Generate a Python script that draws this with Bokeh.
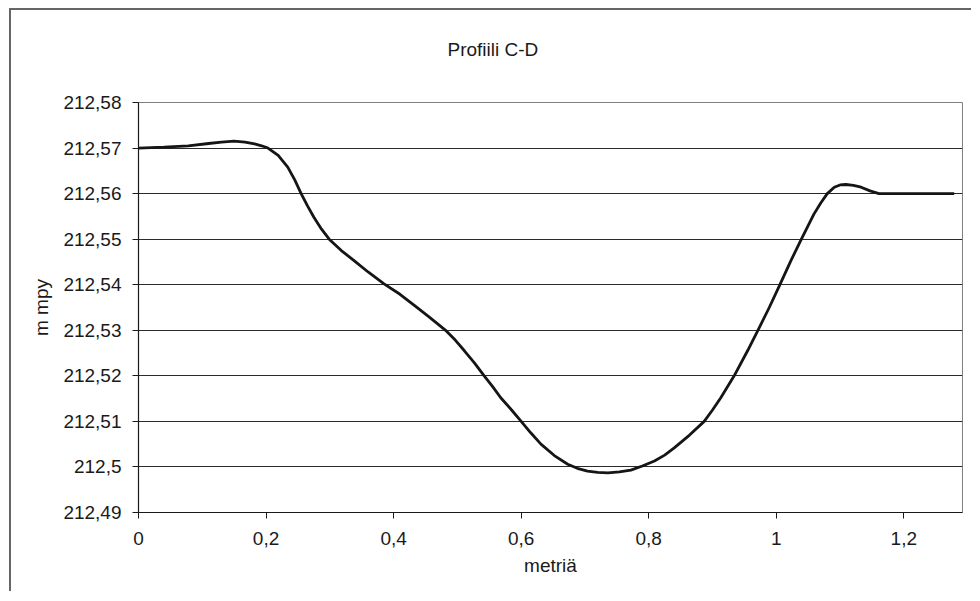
from bokeh.plotting import figure
from bokeh.models import FixedTicker, Range1d, Title
from bokeh.embed import file_html
from bokeh.resources import INLINE

# ---- data ----
title_text = "Profiili C-D"
x_label = "metriä"
y_label = "m mpy"

dist = [0.000, 0.040, 0.078, 0.110, 0.130, 0.150, 0.167, 0.182, 0.193, 0.203,
        0.219, 0.234, 0.245, 0.255, 0.265, 0.275, 0.287, 0.299, 0.318, 0.338,
        0.360, 0.385, 0.410, 0.433, 0.455, 0.470, 0.483, 0.497, 0.511, 0.527,
        0.542, 0.555, 0.568, 0.585, 0.600, 0.615, 0.631, 0.652, 0.673, 0.688,
        0.704, 0.720, 0.736, 0.754, 0.772, 0.790, 0.809, 0.825, 0.840, 0.864,
        0.887, 0.900, 0.913, 0.934, 0.955, 0.971, 0.989, 1.005, 1.023, 1.039,
        1.059, 1.070, 1.080, 1.091, 1.100, 1.109, 1.121, 1.133, 1.147, 1.161,
        1.279]
height = [212.5700, 212.5702, 212.5705, 212.5710, 212.5713, 212.5715, 212.5713,
          212.5709, 212.5705, 212.5700, 212.5684, 212.5658, 212.5630, 212.5600,
          212.5573, 212.5548, 212.5522, 212.5500, 212.5475, 212.5453, 212.5428,
          212.5402, 212.5379, 212.5354, 212.5330, 212.5313, 212.5298, 212.5278,
          212.5255, 212.5228, 212.5200, 212.5177, 212.5152, 212.5125, 212.5100,
          212.5075, 212.5050, 212.5025, 212.5006, 212.4997, 212.4991, 212.4988,
          212.4987, 212.4989, 212.4993, 212.5002, 212.5013, 212.5026, 212.5042,
          212.5070, 212.5100, 212.5125, 212.5152, 212.5200, 212.5255, 212.5299,
          212.5350, 212.5398, 212.5453, 212.5499, 212.5555, 212.5580, 212.5600,
          212.5614, 212.5619, 212.5620, 212.5618, 212.5614, 212.5606, 212.5600,
          212.5600]

x_ticks = [0.0, 0.2, 0.4, 0.6, 0.8, 1.0, 1.2]
x_tick_labels = ["0", "0,2", "0,4", "0,6", "0,8", "1", "1,2"]
y_ticks = [212.49, 212.50, 212.51, 212.52, 212.53, 212.54, 212.55, 212.56, 212.57, 212.58]
y_tick_labels = ["212,49", "212,5", "212,51", "212,52", "212,53", "212,54",
                 "212,55", "212,56", "212,57", "212,58"]

FONT = "Liberation Sans"
TXT = "#1a1a1a"
FS = "19px"

p = figure(width=962, height=583, output_backend="svg", toolbar_location=None,
           x_range=Range1d(0, 1.292), y_range=Range1d(212.49, 212.58),
           min_border_left=127, min_border_right=11, min_border_top=92,
           min_border_bottom=81)
p.styles = {"border-left": "2px solid #666666", "border-top": "2px solid #666666",
            "margin-left": "9px", "margin-top": "8px"}

# trailing empty line lifts the title higher above the plot area
t = Title(text=title_text + "\n", align="left", offset=309, text_font=FONT,
          text_font_size=FS, text_font_style="normal", text_color=TXT,
          standoff=44)
p.add_layout(t, "above")

p.line(dist, height, line_color="#151515", line_width=2.8)

p.outline_line_color = "#808080"
p.outline_line_width = 1
p.background_fill_color = "white"
p.border_fill_color = "white"

p.xgrid.visible = False
p.ygrid.grid_line_color = "#2a2a2a"
p.ygrid.grid_line_width = 1

p.xaxis.ticker = FixedTicker(ticks=x_ticks)
p.yaxis.ticker = FixedTicker(ticks=y_ticks)
p.xaxis.major_label_overrides = {v: s for v, s in zip(x_ticks, x_tick_labels)}
p.yaxis.major_label_overrides = {v: s for v, s in zip(y_ticks, y_tick_labels)}

for ax in (p.xaxis, p.yaxis):
    ax.axis_line_color = "#1a1a1a"
    ax.axis_line_width = 1.2
    ax.major_tick_line_color = "#1a1a1a"
    ax.major_tick_out = 6
    ax.major_tick_in = 0
    ax.minor_tick_out = 0
    ax.minor_tick_in = 0
    ax.major_label_text_font = FONT
    ax.major_label_text_font_size = FS
    ax.major_label_text_color = TXT
    ax.axis_label_text_font = FONT
    ax.axis_label_text_font_size = FS
    ax.axis_label_text_font_style = "normal"
    ax.axis_label_text_color = TXT

p.xaxis.axis_label = x_label
p.yaxis.axis_label = y_label
p.xaxis.major_label_standoff = 13
p.yaxis.major_label_standoff = 11
p.xaxis.axis_label_standoff = 7
p.yaxis.axis_label_standoff = 8

open("out.html", "w").write(file_html(p, INLINE))
